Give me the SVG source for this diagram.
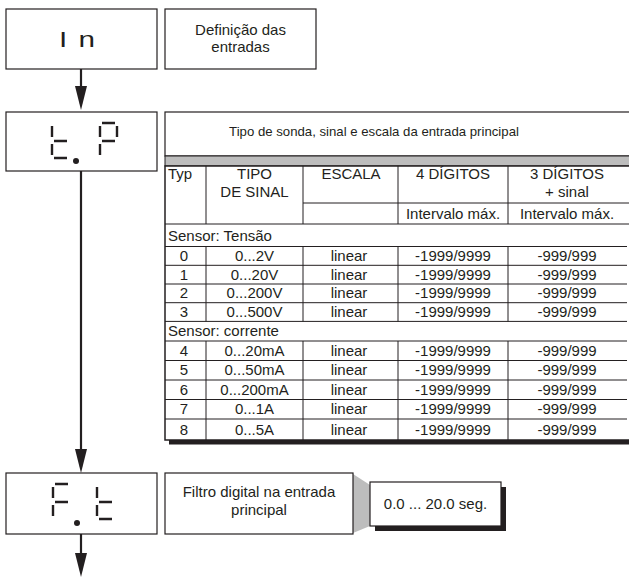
<svg xmlns="http://www.w3.org/2000/svg" width="629" height="583" viewBox="0 0 629 583">
  <style>
    .box{fill:#fff;stroke:#231f20;stroke-width:1.2}
    .t{font-family:"Liberation Sans",Arial,Helvetica,sans-serif;font-size:15px;fill:#231f20}
    .title{font-size:13.2px}
    .big{font-size:22px}
    .c{text-anchor:middle}
    .seg{stroke:#231f20;stroke-width:2.4;fill:none}
    .grid{stroke:#231f20;stroke-width:1;fill:none}
    .wire{stroke:#231f20;stroke-width:2.2;fill:none}
    .band{fill:#bdbdbd;stroke:#231f20;stroke-width:1}
    .shadow{fill:#231f20}
  </style>
  <defs>
    <marker id="arrow" markerUnits="userSpaceOnUse" markerWidth="24" markerHeight="12" refX="18" refY="6" orient="auto">
      <path d="M0,0 L24,6 L0,12 Z" fill="#231f20"/>
    </marker>
  </defs>
  <rect width="629" height="583" fill="#fff"/>

  <!-- flow connectors -->
  <g id="connectors">
    <path class="wire" d="M81,69 V104" marker-end="url(#arrow)"/>
    <path class="wire" d="M81,171 V467" marker-end="url(#arrow)"/>
    <path class="wire" d="M81,534 V571" marker-end="url(#arrow)"/>
  </g>

  <!-- menu step: In -->
  <g id="node-in">
    <rect class="box" x="6" y="9" width="151" height="60"/>
    <text class="t big" transform="translate(59,47) scale(1.35,1)"><tspan x="0">I</tspan><tspan x="14.5">n</tspan></text>
  </g>
  <g id="desc-in">
    <rect class="box" x="165" y="9" width="151" height="60"/>
    <text class="t c" x="240.5" y="35">Definição das</text>
    <text class="t c" x="240.5" y="52">entradas</text>
  </g>

  <!-- menu step: t.P (seven-segment display) -->
  <g id="node-tp">
    <rect class="box" x="6" y="112" width="151" height="59"/>
    <path class="seg" d="M52,126 V137 M54,141 H67 M52,144 V155 M54,158 H67"/>
    <circle cx="76" cy="161" r="3" fill="#231f20"/>
    <path class="seg" d="M102,123 H115 M100,126 V137 M117,126 V137 M102,141 H115 M100,144 V155"/>
  </g>

  <!-- input type / scale table -->
  <g id="table-tp">
    <rect class="shadow" x="169" y="440" width="470" height="4.5"/>
    <rect class="box" x="165" y="112" width="480" height="44"/>
    <text class="t title c" x="374" y="136">Tipo de sonda, sinal e escala da entrada principal</text>
    <rect class="band" x="165" y="156" width="480" height="10"/>
    <rect class="box" x="165" y="166" width="480" height="274" style="stroke-width:1.5"/>

    <!-- header -->
    <path class="grid" d="M303,203 H629 M165,224 H629"/>
    <path class="grid" d="M206,166 V224 M303,166 V224 M398,166 V224 M508,166 V224"/>
    <text class="t" x="168" y="179">Typ</text>
    <text class="t c" x="254.5" y="179">TIPO</text>
    <text class="t c" x="254.5" y="197">DE SINAL</text>
    <text class="t c" x="351" y="179">ESCALA</text>
    <text class="t c" x="453" y="179">4 DÍGITOS</text>
    <text class="t c" x="567" y="179">3 DÍGITOS</text>
    <text class="t c" x="567" y="197">+ sinal</text>
    <text class="t c" x="453" y="219">Intervalo máx.</text>
    <text class="t c" x="567" y="219">Intervalo máx.</text>

    <!-- voltage block -->
    <text class="t" x="168" y="240.5">Sensor: Tensão</text>
    <path class="grid" d="M165,246.5 H627 M165,265.3 H627 M165,284 H627 M165,302.7 H627 M165,321.4 H627"/>
    <path class="grid" d="M206,246.5 V321.4 M303,246.5 V321.4 M398,246.5 V321.4 M508,246.5 V321.4"/>
    <g class="t c">
      <text x="184" y="261">0</text><text x="254.5" y="261">0...2V</text><text x="349" y="261">linear</text><text x="453" y="261">-1999/9999</text><text x="567" y="261">-999/999</text>
      <text x="184" y="279.5">1</text><text x="254.5" y="279.5">0...20V</text><text x="349" y="279.5">linear</text><text x="453" y="279.5">-1999/9999</text><text x="567" y="279.5">-999/999</text>
      <text x="184" y="298.3">2</text><text x="254.5" y="298.3">0...200V</text><text x="349" y="298.3">linear</text><text x="453" y="298.3">-1999/9999</text><text x="567" y="298.3">-999/999</text>
      <text x="184" y="317">3</text><text x="254.5" y="317">0...500V</text><text x="349" y="317">linear</text><text x="453" y="317">-1999/9999</text><text x="567" y="317">-999/999</text>
    </g>

    <!-- current block -->
    <text class="t" x="168" y="336">Sensor: corrente</text>
    <path class="grid" d="M165,341 H627 M165,360.5 H627 M165,380 H627 M165,399.5 H627 M165,419 H627"/>
    <path class="grid" d="M206,341 V440 M303,341 V440 M398,341 V440 M508,341 V440"/>
    <g class="t c">
      <text x="184" y="355.8">4</text><text x="254.5" y="355.8">0...20mA</text><text x="349" y="355.8">linear</text><text x="453" y="355.8">-1999/9999</text><text x="567" y="355.8">-999/999</text>
      <text x="184" y="375.3">5</text><text x="254.5" y="375.3">0...50mA</text><text x="349" y="375.3">linear</text><text x="453" y="375.3">-1999/9999</text><text x="567" y="375.3">-999/999</text>
      <text x="184" y="394.8">6</text><text x="254.5" y="394.8">0...200mA</text><text x="349" y="394.8">linear</text><text x="453" y="394.8">-1999/9999</text><text x="567" y="394.8">-999/999</text>
      <text x="184" y="414.3">7</text><text x="254.5" y="414.3">0...1A</text><text x="349" y="414.3">linear</text><text x="453" y="414.3">-1999/9999</text><text x="567" y="414.3">-999/999</text>
      <text x="184" y="434.5">8</text><text x="254.5" y="434.5">0...5A</text><text x="349" y="434.5">linear</text><text x="453" y="434.5">-1999/9999</text><text x="567" y="434.5">-999/999</text>
    </g>
  </g>

  <!-- menu step: F.t (seven-segment display) -->
  <g id="node-ft">
    <rect class="box" x="6" y="473" width="151" height="61"/>
    <path class="seg" d="M55,484 H68 M53,487 V498 M55,502 H68 M53,505 V516"/>
    <circle cx="77" cy="523" r="3" fill="#231f20"/>
    <path class="seg" d="M97,487 V498 M99,502 H112 M97,505 V516 M99,519 H112"/>
  </g>
  <g id="desc-ft">
    <polygon points="353,474 370,485 370,526 353,533" fill="#bdbdbd"/>
    <rect class="box" x="165" y="473" width="188" height="61"/>
    <text class="t c" x="259" y="497">Filtro digital na entrada</text>
    <text class="t c" x="259" y="515">principal</text>
  </g>
  <g id="value-ft">
    <rect class="shadow" x="375" y="487" width="131" height="44"/>
    <rect class="box" x="370" y="482" width="131" height="44"/>
    <text class="t c" x="435.5" y="509">0.0 ... 20.0 seg.</text>
  </g>
</svg>
